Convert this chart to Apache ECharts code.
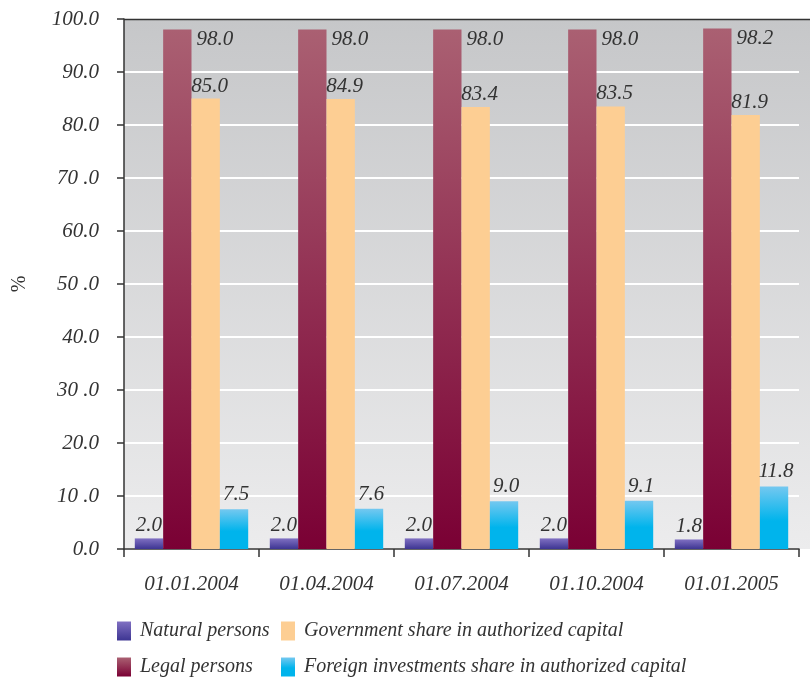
<!DOCTYPE html>
<html>
<head>
<meta charset="utf-8">
<script src="https://cdn.jsdelivr.net/npm/echarts@6/dist/echarts.min.js"></script>
<style>
html,body{margin:0;padding:0;background:#fff;}
#chart{width:810px;height:677px;}
</style>
</head>
<body>
<div id="chart"></div>
<script>
var categories = ['01.01.2004', '01.04.2004', '01.07.2004', '01.10.2004', '01.01.2005'];
var naturalPersons = [2.0, 2.0, 2.0, 2.0, 1.8];
var legalPersons = [98.0, 98.0, 98.0, 98.0, 98.2];
var governmentShare = [85.0, 84.9, 83.4, 83.5, 81.9];
var foreignShare = [7.5, 7.6, 9.0, 9.1, 11.8];
var yTickLabels = ['0.0', '10 .0', '20.0', '30 .0', '40.0', '50 .0', '60.0', '70 .0', '80.0', '90.0', '100.0'];
var seriesNames = ['Natural persons', 'Legal persons', 'Government share in authorized capital', 'Foreign investments share in authorized capital'];

var chart = echarts.init(document.getElementById('chart'), null, {renderer: 'canvas'});
var FONT = 'Liberation Serif';
var TXT = '#333333';

function grad(top, bottom, stops) {
  return new echarts.graphic.LinearGradient(0, 0, 0, 1, stops || [
    {offset: 0, color: top}, {offset: 1, color: bottom}
  ]);
}
var labelBase = {
  show: true, fontFamily: FONT, fontStyle: 'italic', fontSize: 21, color: TXT,
  formatter: function (p) { return p.value.toFixed(1); }
};
function legendItem(name, left, top) {
  return {
    data: [name], left: left, top: top,
    itemWidth: 14, itemHeight: 19, icon: 'rect', padding: 0,
    textStyle: {fontFamily: FONT, fontStyle: 'italic', fontSize: 20, color: TXT, padding: [0, 0, 0, 4]}
  };
}

var option = {
  backgroundColor: '#ffffff',
  animation: false,
  graphic: [
    {type: 'rect', z: -10, silent: true,
     shape: {x: 124, y: 19, width: 686, height: 530},
     style: {fill: grad('#c6c7c9', '#ececed')}},
    {type: 'line', z: 10, silent: true,
     shape: {x1: 124, y1: 19.5, x2: 810, y2: 19.5},
     style: {stroke: '#333333', lineWidth: 1.5}}
  ],
  grid: {left: 124, right: 11, top: 19, bottom: 128, containLabel: false},
  legend: [
    legendItem(seriesNames[0], 117, 621),
    legendItem(seriesNames[1], 117, 657),
    legendItem(seriesNames[2], 281, 621),
    legendItem(seriesNames[3], 281, 657)
  ],
  xAxis: {
    type: 'category',
    data: categories,
    axisLine: {lineStyle: {color: '#333333', width: 1.5}},
    axisTick: {show: true, length: 8, lineStyle: {color: '#333333', width: 1.5}},
    axisLabel: {fontFamily: FONT, fontStyle: 'italic', fontSize: 21, color: TXT, margin: 25}
  },
  yAxis: {
    type: 'value', min: 0, max: 100, interval: 10,
    name: '%', nameLocation: 'middle', nameRotate: 90, nameGap: 94,
    nameTextStyle: {fontFamily: FONT, fontSize: 20, color: TXT},
    axisLine: {show: true, lineStyle: {color: '#333333', width: 1.5}},
    axisTick: {show: true, length: 7, lineStyle: {color: '#333333', width: 1.5}},
    axisLabel: {
      fontFamily: FONT, fontStyle: 'italic', fontSize: 21, color: TXT, margin: 25,
      formatter: function (v) { return yTickLabels[Math.round(v / 10)]; }
    },
    splitLine: {show: true, lineStyle: {color: '#ffffff', width: 2}}
  },
  series: [
    {
      name: seriesNames[0], type: 'bar', data: naturalPersons,
      barWidth: '21%', barGap: '0%',
      itemStyle: {color: grad('#8070c2', '#3d3592')},
      label: Object.assign({}, labelBase, {position: 'top', distance: 2})
    },
    {
      name: seriesNames[1], type: 'bar', data: legalPersons,
      barWidth: '21%', barGap: '0%',
      itemStyle: {color: grad('#aa6072', '#7a0034')},
      label: Object.assign({}, labelBase, {position: ['100%', 0], align: 'left', verticalAlign: 'top', offset: [5, -1]})
    },
    {
      name: seriesNames[2], type: 'bar', data: governmentShare,
      barWidth: '21%', barGap: '0%',
      itemStyle: {color: '#fdce93'},
      label: Object.assign({}, labelBase, {position: 'top', distance: 2, offset: [4, 0]})
    },
    {
      name: seriesNames[3], type: 'bar', data: foreignShare,
      barWidth: '21%', barGap: '0%',
      itemStyle: {color: grad(null, null, [
        {offset: 0, color: '#74c8f0'}, {offset: 0.55, color: '#00b4ec'}, {offset: 1, color: '#00b4ec'}
      ])},
      label: Object.assign({}, labelBase, {position: 'top', distance: 4, offset: [2, 0]})
    }
  ]
};
chart.setOption(option);
</script>
</body>
</html>
